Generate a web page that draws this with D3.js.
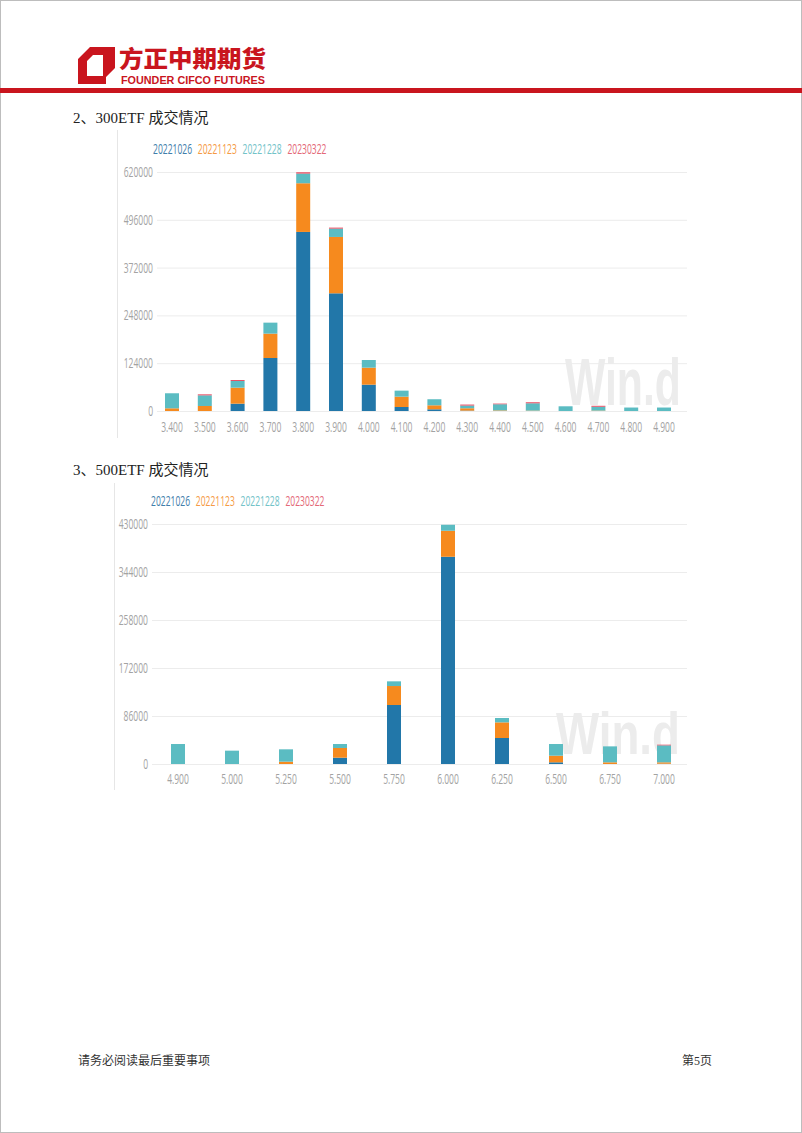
<!DOCTYPE html>
<html><head><meta charset="utf-8">
<script src="https://cdn.jsdelivr.net/npm/d3@7"></script>
<style>
html,body{margin:0;padding:0;background:#fff;}
svg{display:block;}
</style></head>
<body>
<svg id="page" width="802" height="1133"></svg>
<script>
// ---- data ----
const seriesNames = ["20221026","20221123","20221228","20230322"];
const seriesColors = ["#2277a9","#f68a1e","#5bbcc2","#e84c61"];
const legendColors = ["#3f7eab","#f59a45","#72c3c8","#e46877"];

// Chart 1: 300ETF
const strikes300 = ["3.400","3.500","3.600","3.700","3.800","3.900","4.000","4.100","4.200","4.300","4.400","4.500","4.600","4.700","4.800","4.900"];
const s300_1026 = [0,0,19000,137500,464500,305300,68300,10400,4400,1000,0,0,0,0,0,0];
const s300_1123 = [7000,13000,41500,63200,126300,146200,44100,26800,10400,6100,1500,1000,0,1000,0,0];
const s300_1228 = [39000,27600,17400,28500,25100,21600,19900,15600,15700,7000,16000,19000,12200,10000,9000,9000];
const s300_0322 = [0,2600,2500,0,3400,2600,0,0,0,2600,1700,2700,0,2500,0,0];
const ticks300 = [0,124000,248000,372000,496000,620000];

// Chart 2: 500ETF
const strikes500 = ["4.900","5.000","5.250","5.500","5.750","6.000","6.250","6.500","6.750","7.000"];
const s500_1026 = [0,0,0,11300,105700,371300,46600,3000,0,500];
const s500_1123 = [0,0,4200,17400,34000,46600,28000,11900,3000,2500];
const s500_1228 = [35800,23900,22100,7100,8400,10700,7800,20900,28600,30400];
const s500_0322 = [0,0,0,0,0,0,0,0,0,1200];
const ticks500 = [0,86000,172000,258000,344000,430000];

const svg = d3.select("#page");
const numFont = "'Open Sans','Noto Sans',sans-serif";
const SX = 0.61; // horizontal squeeze for the condensed chart font

// page border
svg.append("rect").attr("x",0.5).attr("y",0.5).attr("width",801).attr("height",1132)
  .attr("fill","none").attr("stroke","#bdbdbd");

// ---- header ----
const red = "#c9151e";
svg.append("path")
  .attr("d","M90,47 L115,47 L115,68 L106,77 L106,84 L78,84 L78,59 Z M93,55 L103,55 L103,76 L87,76 L87,61 Z")
  .attr("fill",red).attr("fill-rule","evenodd");
svg.append("text").attr("x",119).attr("y",67).text("方正中期期货")
  .attr("font-family","'Noto Sans CJK SC',sans-serif").attr("font-weight",900)
  .attr("font-size",23).attr("fill",red).attr("textLength",147).attr("lengthAdjust","spacingAndGlyphs");
svg.append("text").attr("x",121).attr("y",84).text("FOUNDER CIFCO FUTURES")
  .attr("font-family","'Liberation Sans',sans-serif").attr("font-weight",700)
  .attr("font-size",10.5).attr("fill",red).attr("textLength",144).attr("lengthAdjust","spacingAndGlyphs");
svg.append("rect").attr("x",0).attr("y",88).attr("width",802).attr("height",5).attr("fill",red);

// ---- footer ----
const footFont = "'Liberation Serif','Noto Sans CJK SC',serif";
svg.append("text").attr("x",78).attr("y",1065).text("请务必阅读最后重要事项")
  .attr("font-family",footFont).attr("font-size",12).attr("fill","#333");
svg.append("text").attr("x",712).attr("y",1065).attr("text-anchor","end").text("第5页")
  .attr("font-family",footFont).attr("font-size",12).attr("fill","#333");

// ---- chart builder ----
function drawChart(cfg){
  const g = svg.append("g");
  g.append("text").attr("x",73).attr("y",cfg.titleY).text(cfg.title)
    .attr("font-family","'Liberation Serif','Noto Sans CJK SC',serif")
    .attr("font-size",15).attr("fill","#222");
  g.append("line").attr("x1",cfg.frameX).attr("x2",cfg.frameX)
    .attr("y1",cfg.frameTop).attr("y2",cfg.frameBottom).attr("stroke","#e6e6e6");

  const x = d3.scaleBand().domain(cfg.cats).range([cfg.x0,cfg.x1]).padding(0);
  const y = d3.scaleLinear().domain([0,cfg.ticks[cfg.ticks.length-1]]).range([cfg.yBase,cfg.yTop]);

  // watermark (Wind logo)
  g.append("text").attr("x",cfg.wmX).attr("y",cfg.wmY).text("Win.d")
    .attr("font-family","'Liberation Sans',sans-serif").attr("font-weight",700).attr("font-size",cfg.wmSize)
    .attr("fill","#ececec").attr("textLength",cfg.wmLen).attr("lengthAdjust","spacingAndGlyphs");

  // gridlines + y labels
  const yAxis = d3.axisLeft(y).tickValues(cfg.ticks).tickSize(-(cfg.gridX1-cfg.gridX0)).tickPadding(0).tickFormat(d=>String(d));
  const ya = g.append("g").attr("transform",`translate(${cfg.gridX0},0)`).call(yAxis);
  ya.select(".domain").remove();
  ya.selectAll(".tick line").attr("stroke","#ececec").attr("stroke-width",1);
  ya.selectAll(".tick text").attr("font-family",numFont).attr("font-weight",400)
    .attr("font-size",14).attr("fill","#a3a3a3")
    .attr("x",-4/SX).attr("transform",`scale(${SX},1)`);

  // stacked bars
  const rows = cfg.cats.map((c,i)=>{
    const o={cat:c}; cfg.series.forEach((s,j)=>o[seriesNames[j]]=s[i]); return o;
  });
  const stack = d3.stack().keys(seriesNames)(rows);
  const bw = 14;
  g.selectAll("g.layer").data(stack).enter().append("g").attr("class","layer").attr("fill",(d,i)=>seriesColors[i])
    .selectAll("rect").data(d=>d).enter().append("rect")
    .attr("x",d=>x(d.data.cat)+x.bandwidth()/2-bw/2).attr("width",bw)
    .attr("y",d=>y(d[1])).attr("height",d=>Math.max(0,y(d[0])-y(d[1])));

  // x labels
  const xAxis = d3.axisBottom(x).tickSize(0).tickPadding(cfg.xPad);
  const xa = g.append("g").attr("transform",`translate(0,${cfg.yBase})`).call(xAxis);
  xa.select(".domain").remove();
  xa.selectAll(".tick text").attr("font-family",numFont).attr("font-weight",400)
    .attr("font-size",14).attr("fill","#a3a3a3").attr("transform",`scale(${SX},1)`);

  // legend
  seriesNames.forEach((n,i)=>{
    g.append("text").attr("transform",`translate(${cfg.legX + i*cfg.legStep},${cfg.legY}) scale(${SX},1)`)
      .text(n).attr("font-family",numFont).attr("font-size",14).attr("fill",legendColors[i]);
  });
}

drawChart({
  title:"2、300ETF 成交情况", titleY:123,
  frameX:117.5, frameTop:130, frameBottom:438,
  cats:strikes300, series:[s300_1026,s300_1123,s300_1228,s300_0322], ticks:ticks300,
  x0:155.6, x1:680.4, yBase:411, yTop:172, gridX0:157, gridX1:687, xPad:11,
  legX:153, legY:154, legStep:44.8,
  wmX:565, wmY:405, wmSize:66, wmLen:116
});
drawChart({
  title:"3、500ETF 成交情况", titleY:475,
  frameX:114.5, frameTop:483, frameBottom:790,
  cats:strikes500, series:[s500_1026,s500_1123,s500_1228,s500_0322], ticks:ticks500,
  x0:151, x1:691, yBase:764, yTop:524, gridX0:152, gridX1:687, xPad:10,
  legX:151, legY:506, legStep:44.8,
  wmX:556, wmY:754, wmSize:60, wmLen:124
});
</script>
</body></html>
